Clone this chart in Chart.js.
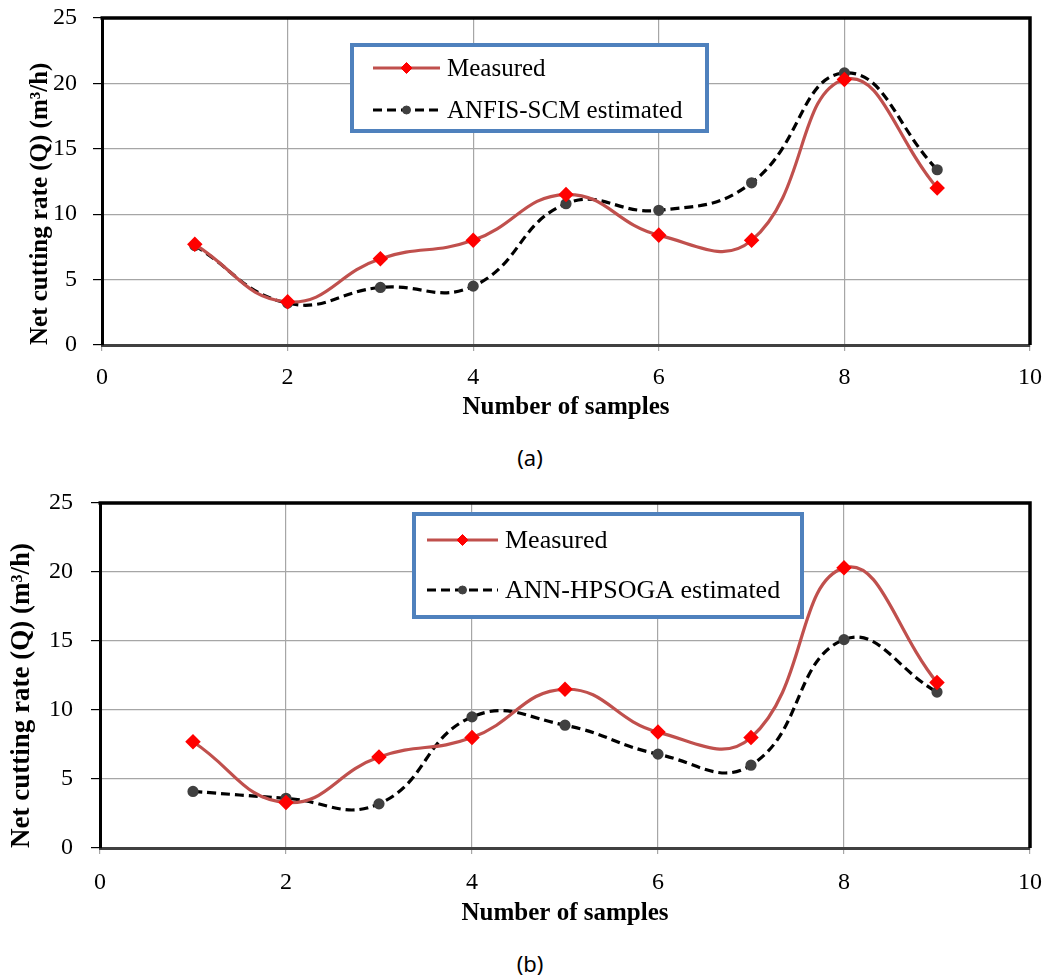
<!DOCTYPE html>
<html>
<head>
<meta charset="utf-8">
<script src="https://cdn.jsdelivr.net/npm/chart.js@4/dist/chart.umd.min.js"></script>
<style>
  body { margin: 0; background: #fff; width: 1043px; height: 980px; position: relative; overflow: hidden; }
  canvas { position: absolute; left: 0; }
  #chartA { top: 0; }
  #chartB { top: 485px; }
  .cap { position: absolute; width: 60px; text-align: center; font-family: "Noto Sans", sans-serif; font-size: 22px; color: #000; }
</style>
</head>
<body>
<canvas id="chartA" width="1043" height="425"></canvas>
<div class="cap" style="left:500px; top:442px;">(a)</div>
<canvas id="chartB" width="1043" height="446"></canvas>
<div class="cap" style="left:500px; top:948px;">(b)</div>
<script>
// sample numbers and net cutting rate (m3/h)
var muestras = [1, 2, 3, 4, 5, 6, 7, 8, 9];
var medido = [7.7, 3.3, 6.6, 8.0, 11.5, 8.4, 8.0, 20.3, 12.0];
var anfis = [7.6, 3.2, 4.4, 4.5, 10.8, 10.3, 12.4, 20.8, 13.4];
var annHpsoga = [4.1, 3.6, 3.2, 9.5, 8.9, 6.8, 6.0, 15.1, 11.3];
var ticksX = [0, 2, 4, 6, 8, 10];
var ticksY = [0, 5, 10, 15, 20, 25];

var serif = '"Liberation Serif", "Times New Roman", serif';

function puntos(valores){
    return muestras.map(function(m, i){ return {x: m, y: valores[i]}; });
}

// black frame on top and right of the plot
var marco = {
    id: 'marco',
    afterDatasetsDraw: function(chart){
        var a = chart.chartArea, ctx = chart.ctx;
        ctx.save();
        ctx.strokeStyle = '#000';
        ctx.lineWidth = 3.5;
        ctx.beginPath();
        ctx.moveTo(a.left - 1.5, a.top);
        ctx.lineTo(a.right, a.top);
        ctx.lineTo(a.right, a.bottom);
        ctx.stroke();
        ctx.restore();
    }
};

// legend inside a blue framed box
var leyendaCaja = {
    id: 'leyendaCaja',
    afterDraw: function(chart, args, o){
        var ctx = chart.ctx;
        ctx.save();
        ctx.fillStyle = '#fff';
        ctx.fillRect(o.x0, o.y0, o.x1 - o.x0, o.y1 - o.y0);
        ctx.strokeStyle = '#4F81BD';
        ctx.lineWidth = 4;
        ctx.strokeRect(o.x0, o.y0, o.x1 - o.x0, o.y1 - o.y0);
        chart.data.datasets.forEach(function(ds, i){
            var y = o.filas[i];
            ctx.strokeStyle = ds.borderColor;
            ctx.lineWidth = ds.borderWidth;
            ctx.setLineDash(ds.borderDash || []);
            ctx.beginPath();
            ctx.moveTo(o.m0, y);
            ctx.lineTo(o.m1, y);
            ctx.stroke();
            ctx.setLineDash([]);
            var mx = (o.m0 + o.m1) / 2;
            ctx.fillStyle = ds.pointBackgroundColor;
            ctx.strokeStyle = ds.pointBorderColor;
            ctx.lineWidth = 1;
            Chart.helpers.drawPoint(ctx, {pointStyle: ds.pointStyle, radius: ds.pointRadius, borderWidth: 1, rotation: 0}, mx, y);
            ctx.fillStyle = '#000';
            ctx.font = o.tam + 'px ' + serif;
            ctx.textBaseline = 'middle';
            ctx.textAlign = 'left';
            ctx.fillText(ds.label, o.tx, y + 1);
        });
        ctx.restore();
    }
};

function crearGrafico(id, etiqueta, valores, cfg){
    var ctx = document.getElementById(id);
    return new Chart(ctx, {
        type: 'line',
        data: {
            datasets: [{
                label: 'Measured',
                data: puntos(medido),
                borderColor: '#C0504D',
                borderWidth: 3.2,
                pointStyle: 'rectRot',
                pointRadius: 5.5,
                pointBackgroundColor: '#FF0000',
                pointBorderColor: '#FF0000',
                tension: 0.45
            }, {
                label: etiqueta,
                data: puntos(valores),
                borderColor: '#000',
                borderWidth: 3.2,
                borderDash: [9, 5],
                pointStyle: 'circle',
                pointRadius: 4,
                pointBackgroundColor: '#404040',
                pointBorderColor: '#404040',
                tension: 0.45
            }]
        },
        options: {
            responsive: false,
            animation: false,
            layout: { padding: { top: 18, right: 13, left: 0, bottom: 0 } },
            plugins: {
                legend: { display: false },
                tooltip: { enabled: false },
                leyendaCaja: cfg.leyenda
            },
            scales: {
                x: {
                    type: 'linear', min: 0, max: 10,
                    afterBuildTicks: function(s){ s.ticks = ticksX.map(function(v){ return {value: v}; }); },
                    afterFit: function(s){ s.height = cfg.altoX; s.paddingLeft = 0; s.paddingRight = 0; },
                    grid: { color: '#a6a6a6', lineWidth: 1.2, tickColor: '#a6a6a6', tickLength: 6 },
                    border: { display: true, color: '#404040', width: 3 },
                    ticks: { color: '#000', padding: cfg.padX, font: { family: serif, size: 24 } },
                    title: { display: true, text: 'Number of samples', color: '#000', padding: {top: 0, bottom: cfg.padTituloX},
                             font: { family: serif, size: 25, weight: 'bold' } }
                },
                y: {
                    min: 0, max: 25,
                    afterBuildTicks: function(s){ s.ticks = ticksY.map(function(v){ return {value: v}; }); },
                    afterFit: function(s){ s.width = cfg.anchoY; s.paddingTop = 0; s.paddingBottom = 0; },
                    grid: { color: '#a6a6a6', lineWidth: 1.2, tickColor: '#000', tickLength: 9 },
                    border: { display: true, color: '#000', width: 3 },
                    ticks: { color: '#000', padding: cfg.padY, font: { family: serif, size: 24 } },
                    title: { display: true, text: 'Net cutting rate (Q) (m³/h)', color: '#000', align: 'start',
                             padding: {top: cfg.padTituloY, bottom: 0},
                             font: { family: serif, size: cfg.tamTituloY, weight: 'bold' } }
                }
            }
        },
        plugins: [marco, leyendaCaja]
    });
}

crearGrafico('chartA', 'ANFIS-SCM estimated', anfis, {
    altoX: 80, anchoY: 102, padX: 12, padY: 16, padTituloX: 2, padTituloY: 26, tamTituloY: 25,
    leyenda: { x0: 352, y0: 45, x1: 707, y1: 131, filas: [68, 110], m0: 373, m1: 440, tx: 447, tam: 25 }
});

crearGrafico('chartB', 'ANN-HPSOGA estimated', annHpsoga, {
    altoX: 83, anchoY: 100, padX: 14, padY: 18, padTituloX: 2, padTituloY: 6, tamTituloY: 27,
    leyenda: { x0: 414, y0: 29, x1: 802, y1: 132, filas: [55, 105], m0: 427, m1: 498, tx: 505, tam: 26 }
});
</script>
</body>
</html>
